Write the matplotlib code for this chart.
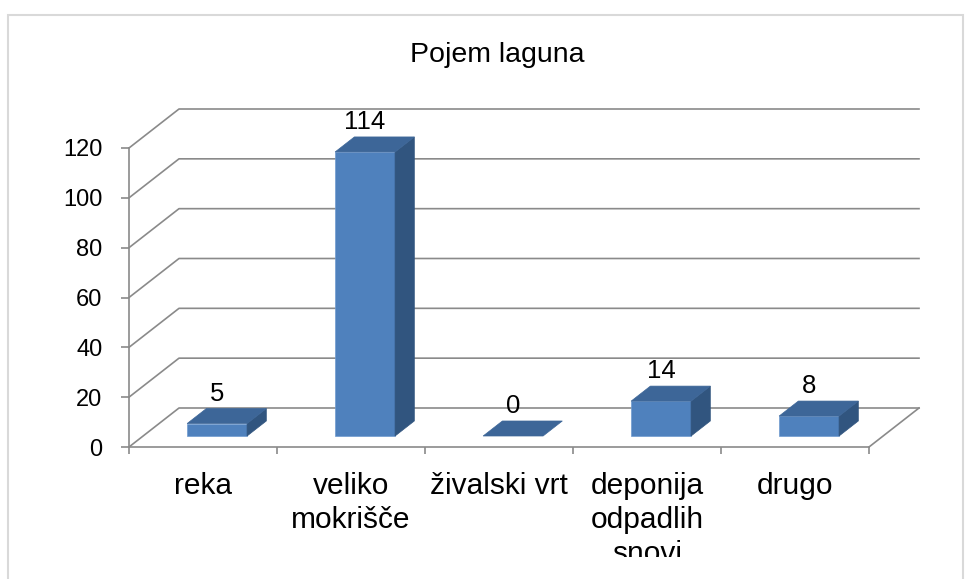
import matplotlib as mpl
mpl.use('Agg')
import matplotlib.pyplot as plt
from matplotlib.patches import Polygon, Rectangle
from matplotlib.transforms import Bbox, TransformedBbox

title = "Pojem laguna"
categories = ["reka", "veliko\nmokrišče", "živalski vrt", "deponija\nodpadlih\nsnovi", "drugo"]
values = [5, 114, 0, 14, 8]
yticks = [0, 20, 40, 60, 80, 100, 120]

plt.rcParams['font.family'] = ['Liberation Sans', 'DejaVu Sans']

W, H = 973, 579
fig = plt.figure(figsize=(W / 100, H / 100), dpi=100)

# front plane of the 3d box (pixel layout of the reference)
left, right, bottom, top = 129, 869, 447, 148
ax = fig.add_axes([left / W, 1 - bottom / H, (right - left) / W, (bottom - top) / H])
ax.set_xlim(-0.5, len(categories) - 0.5)
ax.set_ylim(0, 120)

# depth of the box in data units
px_x = (right - left) / len(categories)
px_y = (bottom - top) / 120.0
DX = 50 / px_x
DY = 39 / px_y

grid_c = "#8a8a8a"
front_c = "#4f81bd"
top_c = "#3d6698"
side_c = "#31557f"

x0, x1 = -0.5, len(categories) - 0.5
for v in yticks:
    ax.plot([x0, x0 + DX, x1 + DX], [v, v + DY, v + DY], color=grid_c, lw=1.2,
            clip_on=False, zorder=1)
ax.plot([x1 + DX, x1], [DY, 0], color=grid_c, lw=1.2, clip_on=False, zorder=1)

# bars sit between depth f0 and f1
f0, f1 = 0.282, 0.667
bw = 0.405
for i, v in enumerate(values):
    bx = i - bw / 2 + f0 * DX
    by = f0 * DY
    d = (f1 - f0)
    ddx, ddy = d * DX, d * DY
    if v > 0:
        ax.add_patch(Rectangle((bx, by), bw, v, facecolor=front_c, edgecolor="#6f9bd0",
                               lw=0.5, clip_on=False, zorder=3))
        ax.add_patch(Polygon([(bx + bw, by), (bx + bw + ddx, by + ddy),
                              (bx + bw + ddx, by + ddy + v), (bx + bw, by + v)],
                             closed=True, facecolor=side_c, edgecolor=side_c, lw=0.5,
                             clip_on=False, zorder=3))
    ax.add_patch(Polygon([(bx, by + v), (bx + ddx, by + ddy + v),
                          (bx + bw + ddx, by + ddy + v), (bx + bw, by + v)],
                         closed=True, facecolor=top_c, edgecolor=top_c, lw=0.5,
                         clip_on=False, zorder=3))
    ax.annotate(str(v), (i + f0 * DX, v + f1 * DY), xytext=(0, 2), textcoords="offset points",
                ha="center", va="bottom", fontsize=18.5, color="black", zorder=4,
                annotation_clip=False)

# axes look
for s in ["top", "right"]:
    ax.spines[s].set_visible(False)
for s in ["left", "bottom"]:
    ax.spines[s].set_color(grid_c)
    ax.spines[s].set_linewidth(1.2)
ax.set_yticks(yticks)
ax.set_yticklabels([str(t) for t in yticks])
ax.tick_params(axis="y", length=6, width=1.2, color=grid_c, pad=13, labelsize=17)
ax.set_xticks([i - 0.5 for i in range(len(categories) + 1)])
ax.set_xticklabels([])
ax.set_xticks(range(len(categories)), minor=True)
ax.set_xticklabels(categories, minor=True, fontsize=21.5, linespacing=1.27, va="top")
ax.tick_params(axis="x", which="major", length=5, width=1.2, color=grid_c, direction="out")
ax.tick_params(axis="x", which="minor", length=0, pad=18)

# bottom of the reference cuts the last label
cut = TransformedBbox(Bbox([[0, 22 / H], [1, 1]]), fig.transFigure)
for lab in ax.get_xticklabels(minor=True):
    lab.set_clip_box(cut)
    lab.set_clip_on(True)

fig.text(497 / W, 1 - 55 / H, title, ha="center", va="center", fontsize=20.5)

# chart border
fig.patches.append(Rectangle((8 / W, -0.05), 955 / W, 1.05 - 15 / H, transform=fig.transFigure,
                             fill=False, edgecolor="#d9d9d9", lw=1.5))

fig.savefig("out.png", dpi=100)
